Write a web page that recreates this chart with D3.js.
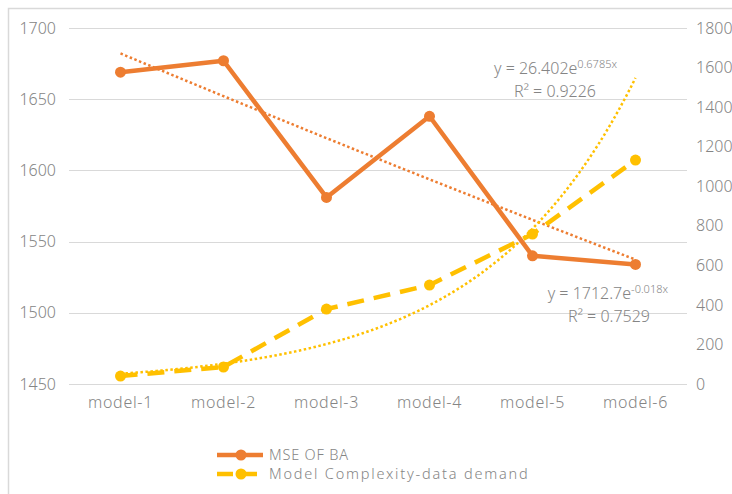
<!DOCTYPE html>
<html>
<head>
<meta charset="utf-8">
<script src="https://cdn.jsdelivr.net/npm/d3@7"></script>
<style>
  html, body { margin: 0; padding: 0; background: #fff; }
  svg { display: block; }
  text { font-family: "Noto Sans", "Open Sans", sans-serif; fill: #858585; font-weight: 300; }
</style>
</head>
<body>
<svg id="chart" width="732" height="494"></svg>
<script>
const categories = ["model-1", "model-2", "model-3", "model-4", "model-5", "model-6"];
const mseValues = [1669, 1677, 1581, 1638, 1540, 1534];
const complexityValues = [40, 86, 379, 500, 758, 1132];
const leftTicks = [1450, 1500, 1550, 1600, 1650, 1700];
const rightTicks = [0, 200, 400, 600, 800, 1000, 1200, 1400, 1600, 1800];
const seriesNames = ["MSE OF BA", "Model Complexity-data demand"];
// exponential trendlines y = a * e^(b x), x = 1..n
const mseTrend = { a: 1712.7, b: -0.018, r2: "0.7529", aText: "1712.7", bText: "-0.018" };
const cxTrend = { a: 26.402, b: 0.6785, r2: "0.9226", aText: "26.402", bText: "0.6785" };

const orange = "#ED7D31", yellow = "#FFC000", grid = "#d9d9d9";
const svg = d3.select("#chart");

// outer border
svg.append("rect").attr("x", 8.5).attr("y", 8.5).attr("width", 740).attr("height", 500)
  .attr("fill", "none").attr("stroke", grid).attr("stroke-width", 1.5);

const L = 69, R = 687, T = 28, B = 384;
const x = d3.scaleBand().domain(categories).range([L, R]);
const yL = d3.scaleLinear().domain([1450, 1700]).range([B, T]);
const yR = d3.scaleLinear().domain([0, 1800]).range([B, T]);

// gridlines
svg.append("g").selectAll("line").data(leftTicks).join("line")
  .attr("x1", L).attr("x2", R)
  .attr("y1", d => Math.round(yL(d)) + 0.5).attr("y2", d => Math.round(yL(d)) + 0.5)
  .attr("stroke", grid).attr("stroke-width", 1);

// axes
const fmt = d3.format("d");
const axL = svg.append("g").attr("transform", `translate(${L - 13},0)`)
  .call(d3.axisLeft(yL).tickValues(leftTicks).tickFormat(fmt).tickSize(0).tickPadding(0));
const axR = svg.append("g").attr("transform", `translate(${R + 9},0)`)
  .call(d3.axisRight(yR).tickValues(rightTicks).tickFormat(fmt).tickSize(0).tickPadding(0));
const axB = svg.append("g").attr("transform", `translate(0,${B + 9})`)
  .call(d3.axisBottom(x).tickSize(0).tickPadding(0));
[axL, axR, axB].forEach(a => {
  a.select(".domain").remove();
  a.selectAll("text").style("font-size", "16px").attr("fill", "#858585");
});
axB.selectAll("text").attr("dy", "0.95em").style("letter-spacing", "0.7px");

const cx = (d, i) => x(categories[i]) + x.bandwidth() / 2;

// trendlines
function trendPts(t, yScale) {
  const pts = [];
  for (let k = 0; k <= 100; k++) {
    const xv = 1 + 5 * k / 100;
    const px = x(categories[0]) + x.bandwidth() / 2 + (xv - 1) * x.step();
    pts.push([px, yScale(t.a * Math.exp(t.b * xv))]);
  }
  return pts;
}
const lineGen = d3.line();
svg.append("path").attr("d", lineGen(trendPts(mseTrend, yL)))
  .attr("fill", "none").attr("stroke", orange).attr("stroke-width", 2.5)
  .attr("stroke-dasharray", "2.5,2.5");
svg.append("path").attr("d", lineGen(trendPts(cxTrend, yR)))
  .attr("fill", "none").attr("stroke", yellow).attr("stroke-width", 2.5)
  .attr("stroke-dasharray", "2.5,2.5");

// series lines
const mseLine = d3.line().x(cx).y(d => yL(d));
const cxLine = d3.line().x(cx).y(d => yR(d));
svg.append("path").datum(mseValues).attr("d", mseLine)
  .attr("fill", "none").attr("stroke", orange).attr("stroke-width", 4.5)
  .attr("stroke-linejoin", "round");
svg.append("path").datum(complexityValues).attr("d", cxLine)
  .attr("fill", "none").attr("stroke", yellow).attr("stroke-width", 4.5)
  .attr("stroke-dasharray", "17,10");

svg.append("g").selectAll("circle").data(mseValues).join("circle")
  .attr("cx", cx).attr("cy", d => yL(d)).attr("r", 5.5).attr("fill", orange);
svg.append("g").selectAll("circle").data(complexityValues).join("circle")
  .attr("cx", cx).attr("cy", d => yR(d)).attr("r", 5.5).attr("fill", yellow);

// trend equations
function equation(t, xr, y1) {
  const tx = svg.append("text").attr("x", xr).attr("y", y1).attr("text-anchor", "end")
    .style("font-size", "16px");
  tx.append("tspan").text(`y = ${t.aText}e`);
  tx.append("tspan").attr("dy", -6).style("font-size", "11px").text(`${t.bText}x`);
}
equation(cxTrend, 617, 74);
svg.append("text").attr("x", 596).attr("y", 97).attr("text-anchor", "end")
  .style("font-size", "16px").text(`R² = ${cxTrend.r2}`);
equation(mseTrend, 668, 299);
svg.append("text").attr("x", 650).attr("y", 322).attr("text-anchor", "end")
  .style("font-size", "16px").text(`R² = ${mseTrend.r2}`);

// legend
const lg = svg.append("g");
const legendY = [455, 474];
lg.append("line").attr("x1", 217).attr("x2", 263).attr("y1", legendY[0]).attr("y2", legendY[0])
  .attr("stroke", orange).attr("stroke-width", 4.5);
lg.append("circle").attr("cx", 241).attr("cy", legendY[0]).attr("r", 5.5).attr("fill", orange);
lg.append("line").attr("x1", 217).attr("x2", 263).attr("y1", legendY[1]).attr("y2", legendY[1])
  .attr("stroke", yellow).attr("stroke-width", 4.5).attr("stroke-dasharray", "16,8");
lg.append("circle").attr("cx", 241).attr("cy", legendY[1]).attr("r", 5.5).attr("fill", yellow);
lg.selectAll("text").data(seriesNames).join("text")
  .attr("x", 269).attr("y", (d, i) => legendY[i]).attr("dy", "0.35em")
  .style("font-size", "14.5px")
  .style("letter-spacing", (d, i) => i === 1 ? "1.8px" : "0.8px")
  .text(d => d);
</script>
</body>
</html>
